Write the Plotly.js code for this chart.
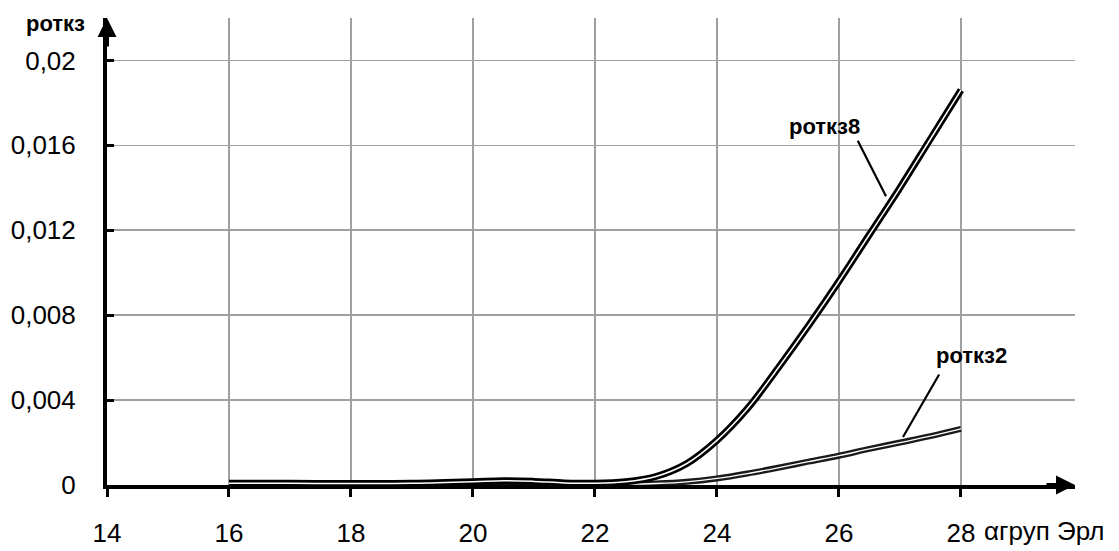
<!DOCTYPE html>
<html>
<head>
<meta charset="utf-8">
<script src="https://cdn.plot.ly/plotly-3.0.1.min.js"></script>
<style>html,body{margin:0;padding:0;background:#fff;}#chart{width:1119px;height:551px;}</style>
</head>
<body>
<div id="chart"></div>
<script>
// ---- data ----
var xValues = [16, 17, 18, 19, 20, 20.5, 21, 21.5, 22, 22.5, 23, 23.5, 24, 24.5, 25, 25.5, 26, 26.5, 27, 27.5, 28];
var rotkz8 = [0.00008, 0.00008, 0.00007, 0.00008, 0.00015, 0.0002, 0.00017, 0.0001, 0.00008, 0.00015, 0.0004, 0.001, 0.0021, 0.0036, 0.0055, 0.0075, 0.0096, 0.0118, 0.014, 0.0163, 0.0186];
var rotkz2 = [0.00004, 0.00004, 0.00004, 0.00004, 0.00008, 0.00012, 0.0001, 0.00006, 0.00004, 0.00004, 0.00007, 0.00015, 0.00031, 0.00054, 0.00081, 0.0011, 0.00138, 0.0017, 0.002, 0.0023, 0.00264];
var xTickVals = [14, 16, 18, 20, 22, 24, 26, 28];
var xTickText = ["14", "16", "18", "20", "22", "24", "26", "28"];
var yTickVals = [0, 0.004, 0.008, 0.012, 0.016, 0.02];
var yTickText = ["0", "0,004", "0,008", "0,012", "0,016", "0,02"];
var yTitle = "роткз";
var xTitle = "αгруп Эрл";
var label8 = "роткз8";
var label2 = "роткз2";

var font = "Liberation Sans, Arial, sans-serif";

function curve(y, color, width) {
  return {x: xValues, y: y, mode: "lines", type: "scatter", hoverinfo: "skip",
          line: {color: color, width: width, shape: "spline", smoothing: 1}, showlegend: false};
}

var traces = [
  curve(rotkz2, "#1a1a1a", 6),
  curve(rotkz2, "#ffffff", 1.3),
  curve(rotkz8, "#000000", 7),
  curve(rotkz8, "#ffffff", 1.5)
];

var boldFont = {family: font, size: 22, color: "#000", weight: "bold"};

var layout = {
  width: 1119, height: 551,
  margin: {l: 107, r: 44, t: 18, b: 66},
  paper_bgcolor: "#fff", plot_bgcolor: "#fff",
  showlegend: false,
  xaxis: {
    range: [14, 29.87], tickvals: xTickVals, ticktext: xTickText,
    showgrid: true, gridcolor: "#a0a0a0", gridwidth: 1.6,
    showline: true, linecolor: "#000", linewidth: 4,
    ticks: "outside", ticklen: 8, tickwidth: 3, tickcolor: "#000",
    ticklabelstandoff: 14,
    tickfont: {family: font, size: 26, color: "#000"},
    zeroline: false, fixedrange: true
  },
  yaxis: {
    range: [0, 0.022], tickvals: yTickVals, ticktext: yTickText,
    showgrid: true, gridcolor: "#a0a0a0", gridwidth: 1.6,
    showline: true, linecolor: "#000", linewidth: 4,
    ticks: "inside", ticklen: 7, tickwidth: 3, tickcolor: "#000",
    ticklabelstandoff: 22,
    tickfont: {family: font, size: 26, color: "#000"},
    zeroline: false, fixedrange: true
  },
  annotations: [
    {xref: "paper", yref: "paper", x: -0.0527, y: 0.988, text: yTitle, showarrow: false,
     xanchor: "center", yanchor: "middle", font: boldFont},
    {xref: "paper", yref: "paper", x: 0.904, y: -0.098, text: xTitle, showarrow: false,
     xanchor: "left", yanchor: "middle", font: {family: font, size: 26, color: "#000"}},
    // curve labels
    {xref: "paper", yref: "paper", x: (824 - 107) / 968, y: (485 - 126) / 467.5, text: label8,
     showarrow: false, xanchor: "center", yanchor: "middle", font: boldFont},
    {xref: "paper", yref: "paper", x: (971 - 107) / 968, y: (485 - 355) / 467.5, text: label2,
     showarrow: false, xanchor: "center", yanchor: "middle", font: boldFont},
    // leader lines
    {xref: "paper", yref: "paper", x: (886 - 107) / 968, y: (485 - 196) / 467.5, ax: -29, ay: -57,
     text: "", showarrow: true, arrowhead: 0, arrowwidth: 2.2, arrowcolor: "#000", standoff: 0},
    {xref: "paper", yref: "paper", x: (903 - 107) / 968, y: (485 - 437) / 467.5, ax: 37, ay: -64,
     text: "", showarrow: true, arrowhead: 0, arrowwidth: 2.2, arrowcolor: "#000", standoff: 0},
    // axis arrows
    {xref: "x", yref: "y", x: 14, y: 0.022, ax: 0, ay: 30, text: "", showarrow: true,
     arrowhead: 2, arrowsize: 0.95, arrowwidth: 4, arrowcolor: "#000"},
    {xref: "x", yref: "y", x: 29.87, y: 0, ax: -30, ay: 0, text: "", showarrow: true,
     arrowhead: 2, arrowsize: 0.95, arrowwidth: 4, arrowcolor: "#000"}
  ]
};

Plotly.newPlot("chart", traces, layout, {displayModeBar: false, staticPlot: true});
</script>
</body>
</html>
